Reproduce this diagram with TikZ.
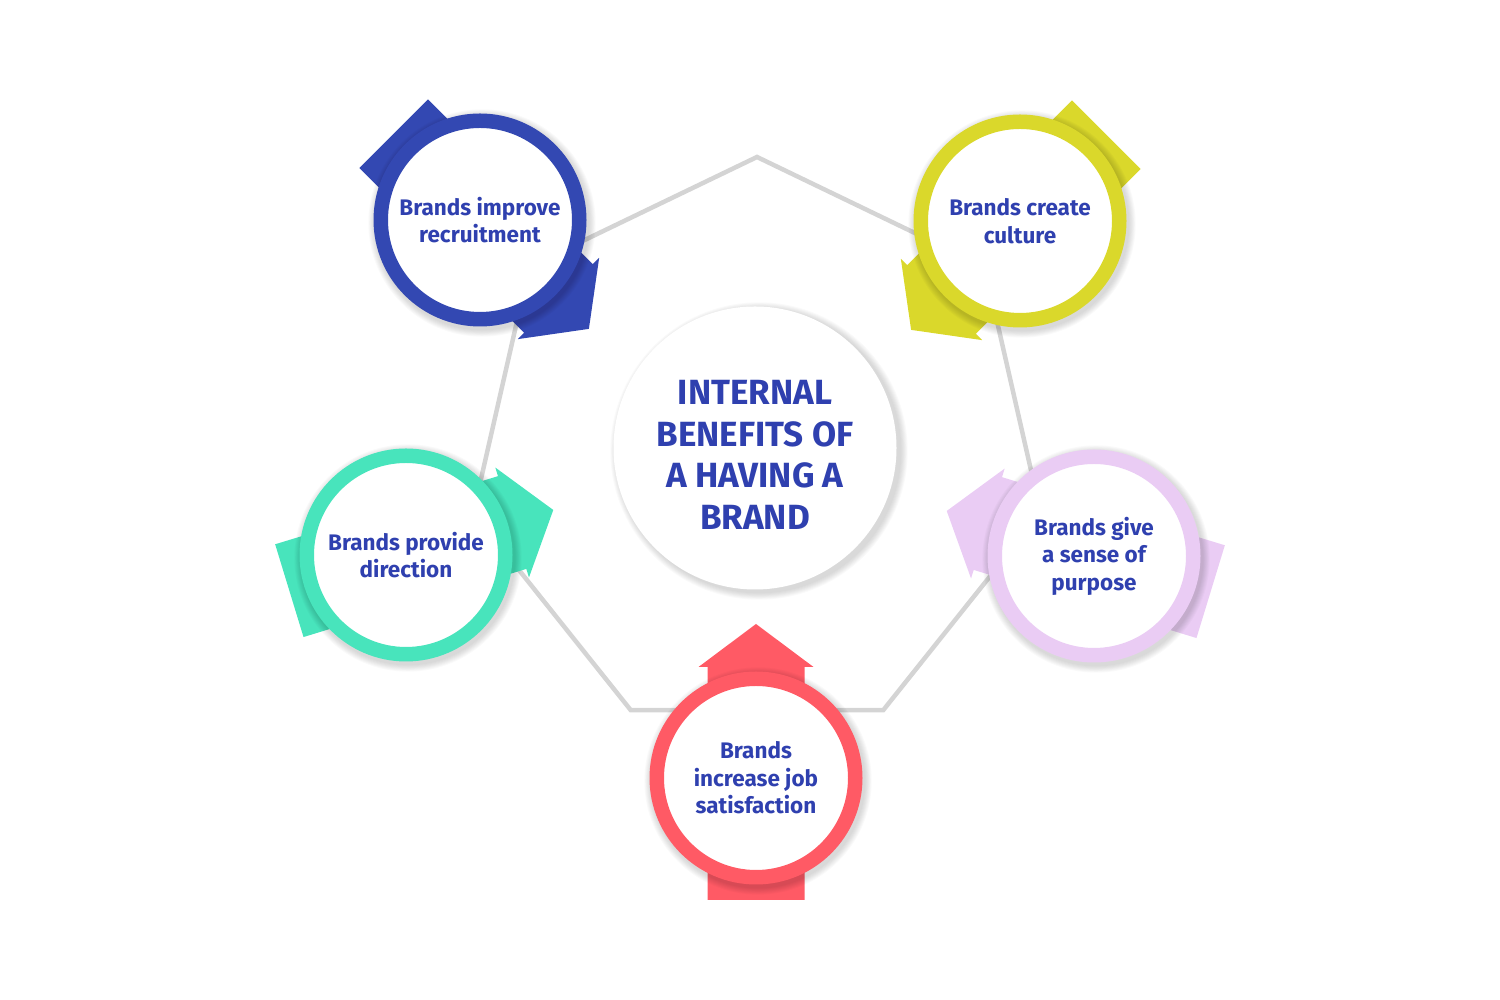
\documentclass[tikz,border=0pt]{standalone}
\usepackage{fontspec}
\setmainfont{Fira Sans}
\usepackage{xcolor}
\usepackage{tikz}
\definecolor{brandblue}{RGB}{51,72,178}
\definecolor{textblue}{RGB}{47,64,175}
\definecolor{brandyellow}{RGB}{218,216,43}
\definecolor{brandteal}{RGB}{72,228,188}
\definecolor{brandlilac}{RGB}{234,204,244}
\definecolor{brandred}{RGB}{255,90,101}
\definecolor{edgegrey}{RGB}{212,212,212}

\tikzset{
  pics/benefitarrow/.style={code={
    \fill[#1] (-122,-48.5) -- (111,-48.5) -- (111,-57.5) -- (154,0)
      -- (111,57.5) -- (111,48.5) -- (-122,48.5) -- cycle;
  }},
  edge/.style={draw=edgegrey, line width=4.5pt, line join=miter},
  ring/.style={circle, fill=white, draw=#1, line width=14.5pt, minimum size=198.5pt,
    inner sep=0pt, align=center, text=textblue,
    font=\bfseries\fontsize{22.5}{27.5}\selectfont},
  hubdisc/.style={circle, fill=white, minimum size=283pt, inner sep=0pt},
  hubtext/.style={align=center, text=textblue, inner sep=0pt,
    font=\bfseries\fontsize{35}{41.6}\selectfont},
}

\newcommand{\softshadow}[2]{%
  \foreach \k in {1,...,8}
    \fill[black, opacity=0.02] ([shift={(2,-3)}]#1) circle ({#2+\k*0.9});
}

\begin{document}
\begin{tikzpicture}[x=1pt,y=1pt]
\useasboundingbox (0,0) rectangle (1500,1000);

% centres of the circles
\coordinate (hub) at (757,552);
\coordinate (pblue) at (480,780);
\coordinate (pyellow) at (1020,779);
\coordinate (pteal) at (406,445);
\coordinate (plilac) at (1094,444);
\coordinate (pred) at (756,222);

% grey heptagon behind everything
\foreach \i in {0,...,6}
  \coordinate (v\i) at ([shift={(90+\i*360/7:291)}]hub);
\draw[edge] (v0) -- (v1) -- (v2) -- (v3) -- (v4) -- (v5) -- (v6) -- cycle;

% arrows behind the rings
\pic[rotate=-45] at (pblue) {benefitarrow=brandblue};
\pic[rotate=225] at (pyellow) {benefitarrow=brandyellow};
\pic[rotate=17] at (pteal) {benefitarrow=brandteal};
\pic[rotate=163] at (plilac) {benefitarrow=brandlilac};
\pic[rotate=90] at (pred) {benefitarrow=brandred};

% shadows
\softshadow{hub}{141.5}
\softshadow{pblue}{106.5}
\softshadow{pyellow}{106.5}
\softshadow{pteal}{106.5}
\softshadow{plilac}{106.5}
\softshadow{pred}{106.5}

% centre
\node[hubdisc] (disc) at (755,552) {};
\node[hubtext] (title) at (755,545) {INTERNAL\\BENEFITS OF\\A HAVING A\\BRAND};

% rings
\node[ring=brandblue] (blue) at (pblue) {Brands improve\\recruitment};
\node[ring=brandyellow] (yellow) at (pyellow) {Brands create\\culture};
\node[ring=brandteal] (teal) at (pteal) {Brands provide\\direction};
\node[ring=brandlilac] (lilac) at (plilac) {Brands give\\a sense of\\purpose};
\node[ring=brandred] (red) at (pred) {Brands\\increase job\\satisfaction};
\end{tikzpicture}
\end{document}
